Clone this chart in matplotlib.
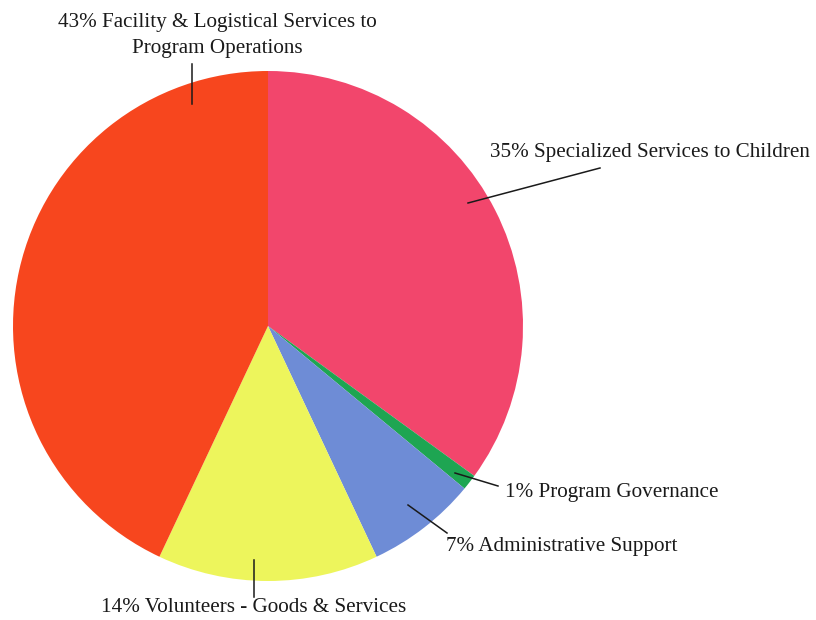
import matplotlib.pyplot as plt

# Data
#-----
labels = ['35% Specialized Services to Children',
          '1% Program Governance',
          '7% Administrative Support',
          '14% Volunteers - Goods & Services',
          '43% Facility & Logistical Services to\nProgram Operations']
shares = [35, 1, 7, 14, 43]
colors = ['#F2466C', '#1EA552', '#6E8CD6', '#EDF55C', '#F7461E']

# Layout (pixel coords, y from top)
#----------------------------------
W, H = 816, 620
cx, cy, rad = 268, 326, 255
# leader line start/end and text anchor for each label
leaders = [((468, 203), (600, 168)),
           ((455, 473), (498, 486)),
           ((408, 505), (447, 533)),
           ((254, 560), (254, 597)),
           ((192, 104), (192, 64))]
textpos = [((490, 153), 'left'),
           ((505, 492), 'left'),
           ((446, 547), 'left'),
           ((254, 607), 'center'),
           ((217, 35), 'center')]

plt.rcParams['font.family'] = ['Liberation Serif', 'DejaVu Serif']

fig = plt.figure(figsize=(W/100, H/100), dpi=100)
ax = fig.add_axes([0, 0, 1, 1])
ax.pie(shares, colors=colors, startangle=90, counterclock=False,
       center=(cx, H - cy), radius=rad,
       wedgeprops={'linewidth': 0})
ax.set_xlim(0, W)
ax.set_ylim(0, H)
ax.set_aspect('equal')
ax.axis('off')

for (p0, p1), ((tx, ty), ha), lab in zip(leaders, textpos, labels):
    ax.plot([p0[0], p1[0]], [H - p0[1], H - p1[1]], color='#1a1a1a', lw=1.1)
    ax.text(tx, H - ty, lab, ha=ha, va='center', fontsize=15.2,
            color='#1a1a1a', linespacing=1.5)

fig.savefig('out.png', dpi=100)
